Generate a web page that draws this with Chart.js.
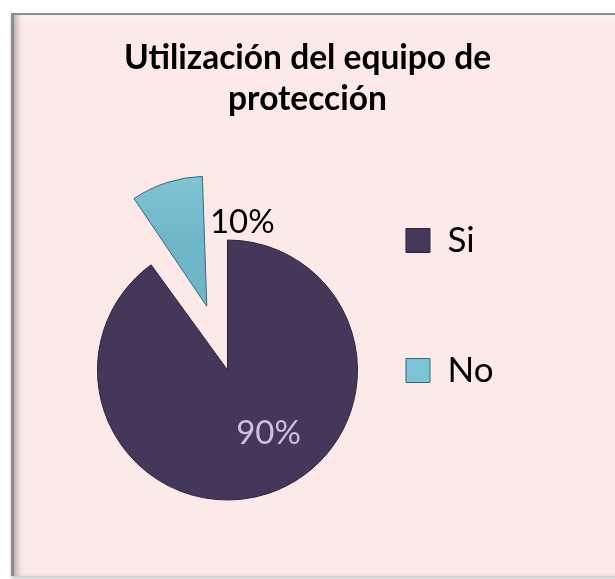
<!DOCTYPE html>
<html lang="es">
<head>
<meta charset="UTF-8">
<title>Utilización del equipo de protección</title>
<script src="https://cdn.jsdelivr.net/npm/chart.js"></script>
<style>
  body { margin: 0; background: #fff; overflow: hidden; }
  #frame {
    position: absolute; left: 11px; top: 13px; width: 604px; height: 561px;
    background: #fde9e7;
    border-top: 2px solid #8d8d8d; border-left: 3px solid #8d8d8d;
    box-shadow: inset 6px 0 6px -3px rgba(0,0,0,0.28), inset 0 12px 10px -8px rgba(255,255,255,0.8), 0 3px 3px rgba(0,0,0,0.2);
  }
  #chart { position: absolute; left: 0; top: 0; }
</style>
</head>
<body>
<div id="frame"></div>
<canvas id="chart" width="615" height="579"></canvas>
<script>
// data
const categories = ['Si', 'No'];
const shares = [90, 10];

// looks
const sliceColors = ['#45375a', '#80c4d5'];
const sliceEdges = ['#2e2440', '#356b7b'];
const legendSwatch = ['#46385b', '#7cc3d5'];
const labelColors = ['#cbc1de', '#000000'];
const explode = [0, 67];      // px the slice is pulled out
const pieRadius = 130;
// label spot relative to its slice: turn from mid angle (deg), distance as part of radius
const labelSpots = [{ turn: -15, dist: 0.58 }, { turn: 41, dist: 0.70 }];

// Chart.js grows an offset arc; keep it at the pie radius
const keepExplodedRadius = {
    id: 'keepExplodedRadius',
    afterDatasetUpdate(chart, args) {
        args.meta.data.forEach(function (arc) {
            const off = (arc.options.offset || 0) / 4;
            if (!off) return;
            const circ = arc.circumference;
            arc.outerRadius -= off * (1 - Math.sin(Math.min(Math.PI, circ)));
        });
    }
};

const sliceLabels = {
    id: 'sliceLabels',
    afterDatasetsDraw(chart) {
        const c = chart.ctx;
        const meta = chart.getDatasetMeta(0);
        const total = shares.reduce((a, b) => a + b, 0);
        const radius = meta.controller.outerRadius;
        c.save();
        c.font = '33px Lato';
        c.textAlign = 'center';
        c.textBaseline = 'middle';
        meta.data.forEach(function (arc, i) {
            const mid = (arc.startAngle + arc.endAngle) / 2;
            const off = (arc.options.offset || 0) / 4;
            const cx = arc.x + Math.cos(mid) * off;
            const cy = arc.y + Math.sin(mid) * off;
            const a = mid + labelSpots[i].turn * Math.PI / 180;
            const r = radius * labelSpots[i].dist;
            c.fillStyle = labelColors[i];
            c.fillText(Math.round(shares[i] / total * 100) + '%', cx + Math.cos(a) * r, cy + Math.sin(a) * r);
        });
        c.restore();
    }
};

const ctx = document.getElementById('chart').getContext('2d');
const chart = new Chart(ctx, {
    type: 'pie',
    data: {
        labels: categories,
        datasets: [{
            data: shares,
            backgroundColor(context) {
                const i = context.dataIndex;
                const area = context.chart.chartArea;
                if (i !== 1 || !area) return sliceColors[i];
                const cy = (area.top + area.bottom) / 2;
                const g = context.chart.ctx.createLinearGradient(0, cy - explode[1] - pieRadius, 0, cy - explode[1] * 0.95);
                g.addColorStop(0, '#bfe9f2');
                g.addColorStop(0.12, '#8fcfdf');
                g.addColorStop(0.5, '#80c4d5');
                g.addColorStop(1, '#6fb5c8');
                return g;
            },
            borderColor: sliceEdges,
            borderWidth: 1,
            offset: explode.map(v => v * 4),
            clip: false
        }]
    },
    options: {
        responsive: false,
        animation: false,
        radius: pieRadius,
        cutout: '0%',
        layout: { padding: { left: 111.5, right: 111.5, top: 0, bottom: 96 } },
        plugins: {
            title: {
                display: true,
                text: ['Utilización del equipo de', 'protección'],
                color: '#000',
                font: { family: 'Lato', weight: 'bold', size: 33.5, lineHeight: '41px' },
                padding: { top: 37.5, bottom: 137.5 }
            },
            legend: {
                position: 'right',
                align: 'end',
                labels: {
                    color: '#000',
                    font: { family: 'Lato', size: 35, lineHeight: '67.5px' },
                    boxWidth: 24,
                    boxHeight: 24,
                    padding: 62.5,
                    generateLabels(chart) {
                        const items = Chart.overrides.pie.plugins.legend.labels.generateLabels(chart);
                        items.forEach(function (it, i) {
                            it.text = [it.text];
                            it.fillStyle = legendSwatch[i];
                            it.strokeStyle = sliceEdges[i];
                            it.lineWidth = 1;
                        });
                        return items;
                    }
                }
            },
            tooltip: { enabled: false }
        }
    },
    plugins: [keepExplodedRadius, sliceLabels]
});
</script>
</body>
</html>
